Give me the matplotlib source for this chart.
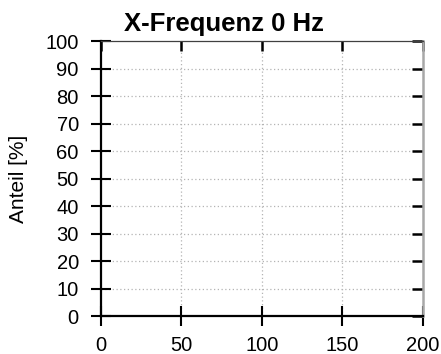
import matplotlib
matplotlib.use("Agg")
import matplotlib.pyplot as plt

plt.rcParams['font.family'] = ['Liberation Sans', 'DejaVu Sans']

title = "X-Frequenz 0 Hz"
y_label = "Anteil [%]"
x_ticks = [0, 50, 100, 150, 200]
y_ticks = [0, 10, 20, 30, 40, 50, 60, 70, 80, 90, 100]
x_range = (0, 200)
y_range = (0, 100)

fig = plt.figure(figsize=(4.41, 3.54), dpi=100)
ax = fig.add_axes([0.229, 0.107, 0.730, 0.777])

ax.set_xlim(*x_range)
ax.set_ylim(*y_range)
ax.set_xticks(x_ticks)
ax.set_yticks(y_ticks)
ax.set_xticklabels([str(v) for v in x_ticks], fontsize=14.5)
ax.set_yticklabels([str(v) for v in y_ticks], fontsize=14.5)

# dotted grid on interior ticks only
for v in x_ticks[1:-1]:
    ax.axvline(v, color='#b4b4b4', lw=0.9, ls=(0, (1, 2)), zorder=0)
for v in y_ticks[1:-1]:
    ax.axhline(v, color='#b4b4b4', lw=0.9, ls=(0, (1, 2)), zorder=0)

for side in ('left', 'bottom'):
    ax.spines[side].set_color('black')
    ax.spines[side].set_linewidth(1.6)
ax.spines['top'].set_color('#404040')
ax.spines['top'].set_linewidth(0.9)
ax.spines['right'].set_color('#a8a8a8')
ax.spines['right'].set_linewidth(1.8)

ax.tick_params(axis='both', which='major', direction='inout', length=14,
               width=1.5, color='black')
ax.tick_params(axis='y', pad=9)
ax.tick_params(axis='x', pad=7)
ax.tick_params(top=True, right=True)
# ticks mirrored on top and right point inwards
for t in ax.xaxis.get_major_ticks():
    t.tick2line.set_marker(3)  # TICKDOWN
    t.tick2line.set_markersize(7)
    t.tick2line.set_markeredgewidth(1.8)
for t in ax.yaxis.get_major_ticks():
    t.tick2line.set_marker(0)  # TICKLEFT
    t.tick2line.set_markersize(8)
    t.tick2line.set_markeredgewidth(1.8)

ax.set_ylabel(y_label, fontsize=15)
ax.yaxis.set_label_coords(-0.228, 0.5)

fig.text(0.508, 0.898, title, fontsize=18.5, fontweight='bold',
         ha='center', va='bottom')

fig.savefig("out.png", dpi=100)
